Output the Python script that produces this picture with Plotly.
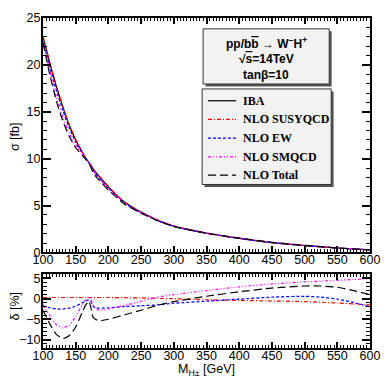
import plotly.graph_objects as go

# ---------------- data ----------------
M = [100, 110, 120, 130, 140, 150, 160, 165, 170, 173, 176, 180, 185, 190, 200,
     225, 250, 275, 300, 350, 400, 450, 500, 525, 550, 575, 600]

sig_IBA = [23.0, 20.3, 17.8, 15.6, 13.6, 12.0, 10.7, 10.1, 9.6, 9.3, 9.0, 8.6, 8.2, 7.8, 7.0,
           5.35, 4.3, 3.45, 2.8, 2.05, 1.5, 1.05, 0.74, 0.6, 0.47, 0.37, 0.28]
sig_SUSYQCD = [23.07, 20.36, 17.85, 15.65, 13.64, 12.04, 10.73, 10.13, 9.63, 9.33, 9.03, 8.63, 8.22, 7.82, 7.02,
               5.36, 4.31, 3.45, 2.80, 2.04, 1.49, 1.04, 0.73, 0.59, 0.47, 0.37, 0.28]
sig_EW = [22.61, 19.85, 17.36, 15.21, 13.29, 11.78, 10.59, 10.05, 9.57, 9.24, 8.85, 8.41, 8.01, 7.62, 6.85,
          5.25, 4.23, 3.40, 2.77, 2.04, 1.50, 1.05, 0.74, 0.60, 0.47, 0.37, 0.27]
sig_SMQCD = [22.66, 19.49, 16.70, 14.49, 12.72, 11.48, 10.54, 10.07, 9.65, 9.30, 8.87, 8.40, 7.98, 7.58, 6.83,
             5.26, 4.27, 3.46, 2.83, 2.09, 1.54, 1.09, 0.77, 0.63, 0.49, 0.39, 0.29]
sig_Total = [22.36, 19.08, 16.27, 14.09, 12.38, 11.17, 10.35, 9.94, 9.54, 9.11, 8.61, 8.17, 7.77, 7.39, 6.65,
             5.14, 4.18, 3.39, 2.78, 2.06, 1.53, 1.08, 0.76, 0.62, 0.48, 0.38, 0.28]

d_SUSYQCD = [0.3, 0.3, 0.3, 0.3, 0.3, 0.3, 0.3, 0.3, 0.3, 0.3, 0.3, 0.3, 0.3, 0.3, 0.3,
             0.25, 0.2, 0.1, 0.0, -0.25, -0.4, -0.55, -0.7, -0.85, -1.05, -1.25, -1.5]
d_EW = [-1.7, -2.2, -2.5, -2.5, -2.3, -1.8, -1.0, -0.5, -0.3, -0.6, -1.7, -2.2, -2.3, -2.3, -2.2,
        -1.9, -1.7, -1.5, -1.1, -0.6, -0.1, 0.4, 0.6, 0.4, -0.1, -0.9, -2.0]
d_SMQCD = [-1.5, -4.0, -6.2, -7.1, -6.5, -4.3, -1.5, -0.3, 0.5, 0.0, -1.4, -2.3, -2.7, -2.8, -2.5,
           -1.6, -0.6, 0.4, 1.0, 2.0, 2.9, 3.6, 4.1, 4.3, 4.5, 4.7, 4.9]
d_Total = [-2.8, -6.0, -8.6, -9.7, -9.0, -6.9, -3.3, -1.6, -0.6, -2.0, -4.3, -5.0, -5.3, -5.3, -5.0,
           -3.9, -2.8, -1.6, -0.7, 0.6, 1.7, 2.6, 3.1, 3.1, 2.8, 2.0, 1.0]

x_ticks = [100, 150, 200, 250, 300, 350, 400, 450, 500, 550, 600]
y_ticks_top = [0, 5, 10, 15, 20, 25]
y_ticks_bot = [-10, -5, 0, 5]

series_names = ["IBA", "NLO SUSYQCD", "NLO EW", "NLO SMQCD", "NLO Total"]

# ---------------- styling ----------------
W, H = 391, 378
ML, MR, MT, MB = 43, 11, 13, 30
PW, PH = W - ML - MR, H - MT - MB

def px(x):
    return (x - ML) / PW

def py(y):
    return (H - MB - y) / PH

styles = {
    "IBA": dict(color="black", dash="solid"),
    "NLO SUSYQCD": dict(color="red", dash="4px,2px,1px,2px"),
    "NLO EW": dict(color="blue", dash="3px,2px"),
    "NLO SMQCD": dict(color="magenta", dash="3px,2px,1px,2px,1px,2px"),
    "NLO Total": dict(color="black", dash="8px,4px"),
}

fig = go.Figure()
top = [sig_IBA, sig_SUSYQCD, sig_EW, sig_SMQCD, sig_Total]
for name, ys in zip(series_names, top):
    st = styles[name]
    fig.add_trace(go.Scatter(x=M, y=ys, mode="lines", name=name, showlegend=False,
                             line=dict(color=st["color"], dash=st["dash"], width=1.2, shape="spline", smoothing=0.5),
                             xaxis="x", yaxis="y"))
bot = [("NLO SUSYQCD", d_SUSYQCD), ("NLO EW", d_EW), ("NLO SMQCD", d_SMQCD), ("NLO Total", d_Total)]
for name, ys in bot:
    st = styles[name]
    fig.add_trace(go.Scatter(x=M, y=ys, mode="lines", name=name, showlegend=False,
                             line=dict(color=st["color"], dash=st["dash"], width=1.2, shape="spline", smoothing=0.5),
                             xaxis="x2", yaxis="y2"))

tickfont = dict(family="Liberation Sans, Arial", size=12.5, color="black")
axis_common = dict(showgrid=False, zeroline=False, showline=True, linecolor="black", linewidth=2,
                   mirror="allticks", ticks="inside", tickwidth=1.5, tickcolor="black", tickfont=tickfont)

top_bottom = (H - MB - 251) / PH
bot_top = (H - MB - 273) / PH

fig.update_layout(
    width=W, height=H, margin=dict(l=ML, r=MR, t=MT, b=MB),
    paper_bgcolor="white", plot_bgcolor="white", showlegend=False,
    xaxis=dict(domain=[0, 1], range=[100, 600], anchor="y", tickvals=x_ticks, ticklen=6, ticklabelstandoff=-5,
               minor=dict(ticks="inside", dtick=5, ticklen=3, tickcolor="black", tickwidth=1),
               **axis_common),
    yaxis=dict(domain=[top_bottom, 1], range=[0, 25], anchor="x", tickvals=y_ticks_top, ticklen=8, ticklabelstandoff=-2,
               minor=dict(ticks="inside", dtick=1, ticklen=4, tickcolor="black", tickwidth=1),
               **axis_common),
    xaxis2=dict(domain=[0, 1], range=[100, 600], anchor="y2", tickvals=x_ticks, ticklen=6, ticklabelstandoff=-5,
                minor=dict(ticks="inside", dtick=5, ticklen=3, tickcolor="black", tickwidth=1),
                **axis_common),
    yaxis2=dict(domain=[0, bot_top], range=[-12, 6], anchor="x2", tickvals=y_ticks_bot, ticklen=8, ticklabelstandoff=-2,
                minor=dict(ticks="inside", dtick=1, ticklen=4, tickcolor="black", tickwidth=1),
                **axis_common),
)

shapes = []
annotations = []

def box(x0, y0, x1, y1):
    # shadow
    shapes.append(dict(type="rect", xref="paper", yref="paper", x0=px(x0 + 2.5), x1=px(x1 + 2.5),
                       y0=py(y1 + 2.5), y1=py(y0 + 2.5), fillcolor="#555555", line=dict(width=0), layer="above"))
    shapes.append(dict(type="rect", xref="paper", yref="paper", x0=px(x0), x1=px(x1),
                       y0=py(y1), y1=py(y0), fillcolor="#f2f2f2", line=dict(color="#333333", width=1), layer="above"))

box(208, 24, 338, 80)
box(207, 85, 340, 182)

title_font = dict(family="Liberation Sans, Arial", size=12, color="black")
title_lines = [
    ("<b>pp/b<span style=\"text-decoration:overline\">b</span> → W<sup>−</sup>H<sup>+</sup></b>", 38),
    ("<b>√<span style=\"text-decoration:overline\">s</span>=14TeV</b>", 55),
    ("<b>tanβ=10</b>", 71),
]
for txt, yy in title_lines:
    annotations.append(dict(xref="paper", yref="paper", x=px(273), y=py(yy), text=txt, showarrow=False,
                            font=title_font, xanchor="center", yanchor="middle"))

leg_font = dict(family="Liberation Serif, Times New Roman", size=12, color="black")
leg_y = [97, 116, 135, 154, 172.5]
for name, yy in zip(series_names, leg_y):
    st = styles[name]
    shapes.append(dict(type="line", xref="paper", yref="paper", x0=px(213), x1=px(242), y0=py(yy), y1=py(yy),
                       line=dict(color=st["color"], dash=st["dash"], width=1.2), layer="above"))
    annotations.append(dict(xref="paper", yref="paper", x=px(247), y=py(yy), text="<b>" + name + "</b>",
                            showarrow=False, font=leg_font, xanchor="left", yanchor="middle"))

label_font = dict(family="Liberation Sans, Arial", size=12.5, color="black")
annotations.append(dict(xref="paper", yref="paper", x=px(14), y=py(133), text="σ [fb]", textangle=-90,
                        showarrow=False, font=label_font, xanchor="center", yanchor="middle"))
annotations.append(dict(xref="paper", yref="paper", x=px(14), y=py(305), text="δ [%]", textangle=-90,
                        showarrow=False, font=label_font, xanchor="center", yanchor="middle"))
annotations.append(dict(xref="paper", yref="paper", x=px(212), y=py(370), text="M<sub>H±</sub> [GeV]",
                        showarrow=False, font=label_font, xanchor="center", yanchor="middle"))

fig.update_layout(shapes=shapes, annotations=annotations)
fig.write_html("out.html", config={"displayModeBar": False},
               post_script="document.body.style.margin='0px';")
